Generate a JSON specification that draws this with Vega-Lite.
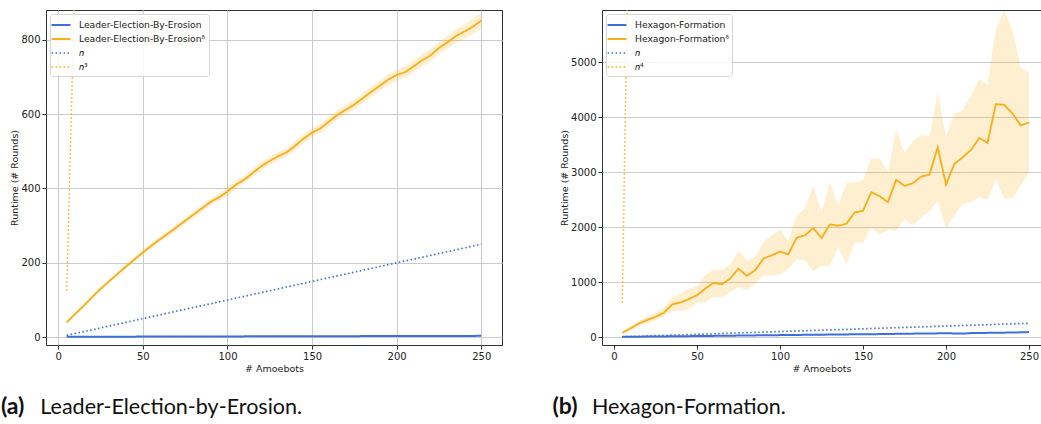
{
  "$schema": "https://vega.github.io/schema/vega-lite/v6.json",
  "padding": {"left": 0, "top": 9, "right": 0, "bottom": 0},
  "autosize": {"type": "pad"},
  "spacing": 49,
  "datasets": {
    "le": [
      {"n": 5, "a": 1.0, "d": 40, "lo": 37, "hi": 43, "lin": 5, "pw": 125},
      {"n": 10, "a": 1.1, "d": 63, "lo": 60, "hi": 66, "lin": 10, "pw": 1000},
      {"n": 15, "a": 1.2, "d": 84, "lo": 80, "hi": 88, "lin": 15, "pw": 3375},
      {"n": 20, "a": 1.3, "d": 108, "lo": 104, "hi": 112, "lin": 20},
      {"n": 25, "a": 1.3, "d": 130, "lo": 125, "hi": 135, "lin": 25},
      {"n": 30, "a": 1.4, "d": 150, "lo": 145, "hi": 155, "lin": 30},
      {"n": 35, "a": 1.4, "d": 170, "lo": 165, "hi": 175, "lin": 35},
      {"n": 40, "a": 1.5, "d": 190, "lo": 184, "hi": 196, "lin": 40},
      {"n": 45, "a": 1.5, "d": 209, "lo": 203, "hi": 215, "lin": 45},
      {"n": 50, "a": 1.6, "d": 228, "lo": 221, "hi": 235, "lin": 50},
      {"n": 55, "a": 1.6, "d": 246, "lo": 239, "hi": 253, "lin": 55},
      {"n": 60, "a": 1.7, "d": 263, "lo": 256, "hi": 270, "lin": 60},
      {"n": 65, "a": 1.7, "d": 279, "lo": 271, "hi": 287, "lin": 65},
      {"n": 70, "a": 1.8, "d": 296, "lo": 288, "hi": 304, "lin": 70},
      {"n": 75, "a": 1.8, "d": 313, "lo": 305, "hi": 321, "lin": 75},
      {"n": 80, "a": 1.9, "d": 330, "lo": 321, "hi": 339, "lin": 80},
      {"n": 85, "a": 1.9, "d": 347, "lo": 338, "hi": 356, "lin": 85},
      {"n": 90, "a": 2.0, "d": 364, "lo": 355, "hi": 373, "lin": 90},
      {"n": 95, "a": 2.0, "d": 376, "lo": 366, "hi": 386, "lin": 95},
      {"n": 100, "a": 2.1, "d": 392, "lo": 380, "hi": 404, "lin": 100},
      {"n": 105, "a": 2.1, "d": 410, "lo": 399, "hi": 421, "lin": 105},
      {"n": 110, "a": 2.2, "d": 424, "lo": 414, "hi": 434, "lin": 110},
      {"n": 115, "a": 2.2, "d": 442, "lo": 432, "hi": 452, "lin": 115},
      {"n": 120, "a": 2.3, "d": 460, "lo": 449, "hi": 471, "lin": 120},
      {"n": 125, "a": 2.3, "d": 474, "lo": 463, "hi": 485, "lin": 125},
      {"n": 130, "a": 2.4, "d": 487, "lo": 476, "hi": 498, "lin": 130},
      {"n": 135, "a": 2.4, "d": 497, "lo": 486, "hi": 508, "lin": 135},
      {"n": 140, "a": 2.5, "d": 515, "lo": 503, "hi": 527, "lin": 140},
      {"n": 145, "a": 2.5, "d": 534, "lo": 522, "hi": 546, "lin": 145},
      {"n": 150, "a": 2.6, "d": 550, "lo": 538, "hi": 562, "lin": 150},
      {"n": 155, "a": 2.6, "d": 562, "lo": 550, "hi": 574, "lin": 155},
      {"n": 160, "a": 2.7, "d": 580, "lo": 567, "hi": 593, "lin": 160},
      {"n": 165, "a": 2.7, "d": 598, "lo": 585, "hi": 611, "lin": 165},
      {"n": 170, "a": 2.8, "d": 612, "lo": 599, "hi": 625, "lin": 170},
      {"n": 175, "a": 2.8, "d": 626, "lo": 613, "hi": 639, "lin": 175},
      {"n": 180, "a": 2.9, "d": 643, "lo": 629, "hi": 657, "lin": 180},
      {"n": 185, "a": 2.9, "d": 660, "lo": 646, "hi": 674, "lin": 185},
      {"n": 190, "a": 3.0, "d": 676, "lo": 662, "hi": 690, "lin": 190},
      {"n": 195, "a": 3.0, "d": 693, "lo": 678, "hi": 708, "lin": 195},
      {"n": 200, "a": 3.1, "d": 705, "lo": 690, "hi": 720, "lin": 200},
      {"n": 205, "a": 3.1, "d": 713, "lo": 698, "hi": 728, "lin": 205},
      {"n": 210, "a": 3.2, "d": 728, "lo": 712, "hi": 744, "lin": 210},
      {"n": 215, "a": 3.2, "d": 745, "lo": 729, "hi": 761, "lin": 215},
      {"n": 220, "a": 3.3, "d": 758, "lo": 741, "hi": 775, "lin": 220},
      {"n": 225, "a": 3.3, "d": 778, "lo": 761, "hi": 795, "lin": 225},
      {"n": 230, "a": 3.4, "d": 793, "lo": 775, "hi": 811, "lin": 230},
      {"n": 235, "a": 3.4, "d": 810, "lo": 792, "hi": 828, "lin": 235},
      {"n": 240, "a": 3.5, "d": 822, "lo": 803, "hi": 841, "lin": 240},
      {"n": 245, "a": 3.5, "d": 835, "lo": 815, "hi": 855, "lin": 245},
      {"n": 250, "a": 3.6, "d": 852, "lo": 830, "hi": 874, "lin": 250}
    ],
    "hx": [
      {"n": 5, "a": 3, "d": 78, "lo": 60, "hi": 100, "lin": 5, "pw": 625},
      {"n": 10, "a": 5, "d": 158, "lo": 120, "hi": 200, "lin": 10, "pw": 10000},
      {"n": 15, "a": 6, "d": 248, "lo": 205, "hi": 296, "lin": 15, "pw": 50625},
      {"n": 20, "a": 8, "d": 309, "lo": 248, "hi": 369, "lin": 20},
      {"n": 25, "a": 10, "d": 369, "lo": 309, "hi": 448, "lin": 25},
      {"n": 30, "a": 11, "d": 442, "lo": 369, "hi": 539, "lin": 30},
      {"n": 35, "a": 13, "d": 593, "lo": 472, "hi": 720, "lin": 35},
      {"n": 40, "a": 14, "d": 630, "lo": 472, "hi": 793, "lin": 40},
      {"n": 45, "a": 16, "d": 690, "lo": 502, "hi": 877, "lin": 45},
      {"n": 50, "a": 18, "d": 762, "lo": 630, "hi": 925, "lin": 50},
      {"n": 55, "a": 20, "d": 883, "lo": 635, "hi": 1125, "lin": 55},
      {"n": 60, "a": 21, "d": 985, "lo": 731, "hi": 1228, "lin": 60},
      {"n": 65, "a": 23, "d": 962, "lo": 720, "hi": 1216, "lin": 65},
      {"n": 70, "a": 25, "d": 1065, "lo": 822, "hi": 1319, "lin": 70},
      {"n": 75, "a": 26, "d": 1246, "lo": 913, "hi": 1579, "lin": 75},
      {"n": 80, "a": 28, "d": 1113, "lo": 853, "hi": 1385, "lin": 80},
      {"n": 85, "a": 30, "d": 1216, "lo": 975, "hi": 1458, "lin": 85},
      {"n": 90, "a": 32, "d": 1428, "lo": 1125, "hi": 1730, "lin": 90},
      {"n": 95, "a": 33, "d": 1488, "lo": 1125, "hi": 1851, "lin": 95},
      {"n": 100, "a": 35, "d": 1555, "lo": 1138, "hi": 1954, "lin": 100},
      {"n": 105, "a": 36, "d": 1506, "lo": 1246, "hi": 1760, "lin": 105},
      {"n": 110, "a": 38, "d": 1809, "lo": 1416, "hi": 2202, "lin": 110},
      {"n": 115, "a": 40, "d": 1851, "lo": 1397, "hi": 2335, "lin": 115},
      {"n": 120, "a": 42, "d": 1984, "lo": 1198, "hi": 2758, "lin": 120},
      {"n": 125, "a": 43, "d": 1803, "lo": 1294, "hi": 2274, "lin": 125},
      {"n": 130, "a": 45, "d": 2051, "lo": 1294, "hi": 2818, "lin": 130},
      {"n": 135, "a": 47, "d": 2027, "lo": 1639, "hi": 2396, "lin": 135},
      {"n": 140, "a": 48, "d": 2063, "lo": 1319, "hi": 2807, "lin": 140},
      {"n": 145, "a": 50, "d": 2269, "lo": 1718, "hi": 2818, "lin": 145},
      {"n": 150, "a": 52, "d": 2299, "lo": 1718, "hi": 2849, "lin": 150},
      {"n": 155, "a": 50, "d": 2637, "lo": 2002, "hi": 3254, "lin": 155},
      {"n": 160, "a": 54, "d": 2565, "lo": 1869, "hi": 3249, "lin": 160},
      {"n": 165, "a": 56, "d": 2456, "lo": 1954, "hi": 3000, "lin": 165},
      {"n": 170, "a": 58, "d": 2862, "lo": 1929, "hi": 3787, "lin": 170},
      {"n": 175, "a": 60, "d": 2753, "lo": 2154, "hi": 3352, "lin": 175},
      {"n": 180, "a": 62, "d": 2800, "lo": 2033, "hi": 3563, "lin": 180},
      {"n": 185, "a": 63, "d": 2922, "lo": 2183, "hi": 3679, "lin": 185},
      {"n": 190, "a": 65, "d": 2958, "lo": 2287, "hi": 3653, "lin": 190},
      {"n": 195, "a": 67, "d": 3454, "lo": 2486, "hi": 4452, "lin": 195},
      {"n": 200, "a": 68, "d": 2777, "lo": 1972, "hi": 3636, "lin": 200},
      {"n": 205, "a": 66, "d": 3152, "lo": 2214, "hi": 4060, "lin": 205},
      {"n": 210, "a": 62, "d": 3273, "lo": 2426, "hi": 4132, "lin": 210},
      {"n": 215, "a": 72, "d": 3406, "lo": 2456, "hi": 4392, "lin": 215},
      {"n": 220, "a": 74, "d": 3624, "lo": 2546, "hi": 4695, "lin": 220},
      {"n": 225, "a": 76, "d": 3534, "lo": 2499, "hi": 4592, "lin": 225},
      {"n": 230, "a": 78, "d": 4241, "lo": 2867, "hi": 5602, "lin": 230},
      {"n": 235, "a": 80, "d": 4229, "lo": 2517, "hi": 5947, "lin": 235},
      {"n": 240, "a": 82, "d": 4071, "lo": 2528, "hi": 5602, "lin": 240},
      {"n": 245, "a": 86, "d": 3853, "lo": 2758, "hi": 4906, "lin": 245},
      {"n": 250, "a": 90, "d": 3907, "lo": 3000, "hi": 4815, "lin": 250}
    ]
  },
  "hconcat": [
    {
      "width": 456,
      "height": 335,
      "data": {"name": "le"},
      "title": {
        "text": "(a)",
        "subtitle": "\u200b\u2003\u2003\u2004Leader-Election-by-Erosion.",
        "orient": "bottom", "anchor": "start", "frame": "bounds",
        "offset": 23, "dx": -9,
        "font": "Lato", "fontSize": 23, "fontWeight": "bold", "color": "#111",
        "subtitleFont": "Lato", "subtitleFontSize": 21.5, "subtitleFontWeight": "normal", "subtitleColor": "#111",
        "subtitlePadding": -22
      },
      "layer": [
        {
          "mark": {"type": "area", "color": "#fbae17", "opacity": 0.2, "clip": true},
          "encoding": {
            "x": {"field": "n", "type": "quantitative", "scale": {"domain": [-7.25, 262.25], "nice": false, "zero": false},
                  "axis": {"values": [0, 50, 100, 150, 200, 250], "title": "# Amoebots", "titlePadding": 2}},
            "y": {"field": "lo", "type": "quantitative", "scale": {"domain": [-21, 880], "nice": false, "zero": false},
                  "axis": {"values": [0, 200, 400, 600, 800], "format": "d", "title": "Runtime (# Rounds)", "titlePadding": 1}},
            "y2": {"field": "hi"}
          }
        },
        {
          "transform": [{"fold": ["a", "d", "lin", "pw"], "as": ["key", "val"]}],
          "mark": {"type": "line", "clip": true},
          "encoding": {
            "x": {"field": "n", "type": "quantitative", "scale": {"domain": [-7.25, 262.25], "nice": false, "zero": false},
                  "axis": {"values": [0, 50, 100, 150, 200, 250], "title": "# Amoebots", "titlePadding": 2}},
            "y": {"field": "val", "type": "quantitative", "scale": {"domain": [-21, 880], "nice": false, "zero": false},
                  "axis": {"values": [0, 200, 400, 600, 800], "format": "d", "title": "Runtime (# Rounds)", "titlePadding": 1}},
            "color": {"field": "key", "type": "nominal",
                      "scale": {"domain": ["a", "d", "lin", "pw"], "range": ["#3d6fdc", "#fbae17", "#3d6fdc", "#fbae17"]},
                      "legend": {"title": null, "labelExpr": "datum.label == 'a' ? 'Leader-Election-By-Erosion' : datum.label == 'd' ? 'Leader-Election-By-Erosionᵟ' : datum.label == 'lin' ? '𝑛' : '𝑛³'"}},
            "strokeDash": {"field": "key", "type": "nominal",
                           "scale": {"domain": ["a", "d", "lin", "pw"], "range": [[1, 0], [1, 0], [1.5, 2.5], [1.5, 2.5]]},
                           "legend": {"title": null}},
            "strokeWidth": {"field": "key", "type": "nominal",
                            "scale": {"domain": ["a", "d", "lin", "pw"], "range": [2, 1.5, 1.5, 1.5]},
                            "legend": {"title": null}}
          }
        }
      ]
    },
    {
      "width": 439,
      "height": 335,
      "data": {"name": "hx"},
      "view": {"stroke": null},
      "title": {
        "text": "(b)",
        "subtitle": "\u200b\u2003\u2003\u2004Hexagon-Formation.",
        "orient": "bottom", "anchor": "start", "frame": "bounds",
        "offset": 23, "dx": -7,
        "font": "Lato", "fontSize": 23, "fontWeight": "bold", "color": "#111",
        "subtitleFont": "Lato", "subtitleFontSize": 21.5, "subtitleFontWeight": "normal", "subtitleColor": "#111",
        "subtitlePadding": -22
      },
      "resolve": {"axis": {"x": "independent"}},
      "layer": [
        {
          "mark": {"type": "area", "color": "#fbae17", "opacity": 0.2, "clip": true},
          "encoding": {
            "x": {"field": "n", "type": "quantitative", "scale": {"domain": [-7.23, 257.2], "nice": false, "zero": false},
                  "axis": {"orient": "top", "labels": false, "ticks": false, "grid": false, "domain": true, "title": null}},
            "y": {"field": "lo", "type": "quantitative", "scale": {"domain": [-145, 5955], "nice": false, "zero": false},
                  "axis": {"values": [0, 1000, 2000, 3000, 4000, 5000], "format": "d", "title": "Runtime (# Rounds)", "titlePadding": 1, "domain": true}},
            "y2": {"field": "hi"}
          }
        },
        {
          "transform": [{"fold": ["a", "d", "lin", "pw"], "as": ["key", "val"]}],
          "mark": {"type": "line", "clip": true},
          "encoding": {
            "x": {"field": "n", "type": "quantitative", "scale": {"domain": [-7.23, 257.2], "nice": false, "zero": false},
                  "axis": {"values": [0, 50, 100, 150, 200, 250], "title": "# Amoebots", "titlePadding": 2, "domain": true}},
            "y": {"field": "val", "type": "quantitative", "scale": {"domain": [-145, 5955], "nice": false, "zero": false},
                  "axis": {"values": [0, 1000, 2000, 3000, 4000, 5000], "format": "d", "title": "Runtime (# Rounds)", "titlePadding": 1, "domain": true}},
            "color": {"field": "key", "type": "nominal",
                      "scale": {"domain": ["a", "d", "lin", "pw"], "range": ["#3d6fdc", "#fbae17", "#3d6fdc", "#fbae17"]},
                      "legend": {"title": null, "labelExpr": "datum.label == 'a' ? 'Hexagon-Formation' : datum.label == 'd' ? 'Hexagon-Formationᵟ' : datum.label == 'lin' ? '𝑛' : '𝑛⁴'"}},
            "strokeDash": {"field": "key", "type": "nominal",
                           "scale": {"domain": ["a", "d", "lin", "pw"], "range": [[1, 0], [1, 0], [1.5, 2.5], [1.5, 2.5]]},
                           "legend": {"title": null}},
            "strokeWidth": {"field": "key", "type": "nominal",
                            "scale": {"domain": ["a", "d", "lin", "pw"], "range": [2, 1.5, 1.5, 1.5]},
                            "legend": {"title": null}}
          }
        }
      ]
    }
  ],
  "resolve": {"scale": {"color": "independent", "strokeDash": "independent", "strokeWidth": "independent"}, "legend": {"color": "independent", "strokeDash": "independent", "strokeWidth": "independent"}},
  "config": {
    "font": "DejaVu Sans",
    "view": {"stroke": "#333", "strokeWidth": 1},
    "axis": {
      "gridColor": "#cbcbcb", "gridWidth": 1, "tickColor": "#333", "tickSize": 4, "tickWidth": 1,
      "labelFont": "DejaVu Sans", "labelFontSize": 10, "labelColor": "#222", "labelPadding": 2,
      "titleFont": "DejaVu Sans", "titleFontSize": 9.5, "titleFontWeight": "normal", "titleColor": "#222",
      "domain": false, "domainColor": "#333", "domainWidth": 1
    },
    "legend": {
      "orient": "top-left", "offset": 4, "padding": 3,
      "fillColor": "rgba(255,255,255,0.85)", "strokeColor": "#d5d5d5", "cornerRadius": 3,
      "symbolType": "M-1.35,0H1.35", "symbolSize": 196, "labelFont": "DejaVu Sans", "labelFontSize": 9.2, "labelColor": "#222",
      "labelOffset": 10, "rowPadding": -0.3
    }
  }
}
